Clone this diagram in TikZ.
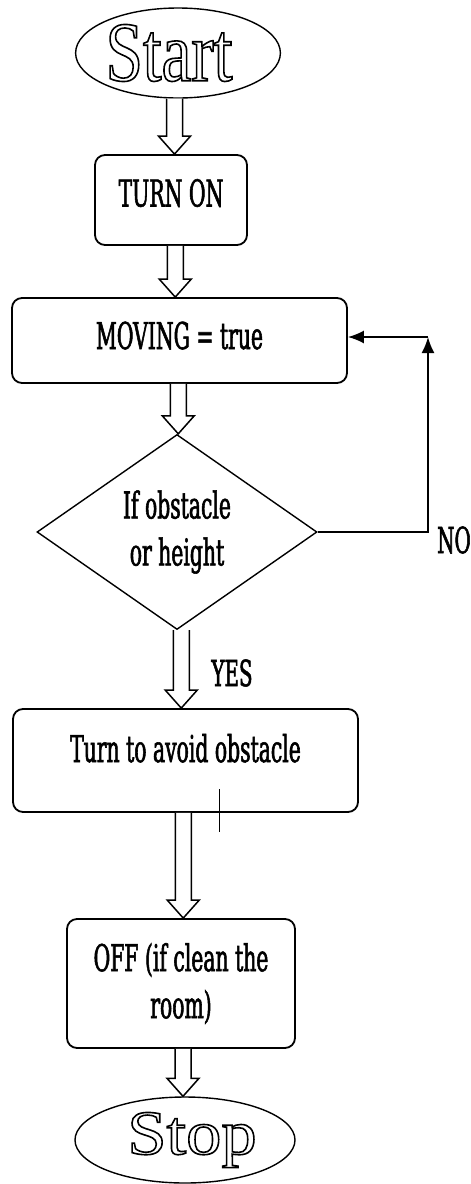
\documentclass[tikz,border=0pt]{standalone}
\usepackage{fontspec}
\setmainfont{DejaVu Serif}[FakeStretch=0.55,FakeBold=1.5]
\newfontfamily\startfont{Liberation Serif}[FakeStretch=0.79]
\newfontfamily\stopfont{Liberation Serif}[FakeStretch=1.12]
\usetikzlibrary{shapes.geometric,arrows.meta,calc}
\newcommand{\outlined}[1]{\special{pdf:literal direct 1 Tr 1.6 w}#1\special{pdf:literal direct 0 Tr}}
\newcommand{\hollowarrow}[2]{%
  \draw[hollow] let \p1=(#1.south), \p2=(#2.north), \p3=($(#1.south)!0.5!(#2.north)$) in
    (\x3-8pt,\y1) -- (\x3-8pt,\y2+18pt) -- (\x3-16pt,\y2+18pt) -- (\x3,\y2)
    -- (\x3+16pt,\y2+18pt) -- (\x3+8pt,\y2+18pt) -- (\x3+8pt,\y1);}
\begin{document}
\begin{tikzpicture}[x=1pt,y=-1pt,
    terminal/.style={draw,ellipse,line width=1.4pt,inner sep=0pt},
    stepbox/.style={draw,rounded corners=10pt,line width=1.8pt,inner sep=0pt,
      font=\fontsize{37}{47}\selectfont,align=center},
    decision/.style={draw,diamond,line width=1.4pt,inner sep=0pt,aspect=1.44,
      minimum width=280pt,minimum height=195pt,font=\fontsize{37}{47}\selectfont,align=center},
    hollow/.style={line width=1.5pt,line join=miter,fill=white},
    feedback/.style={line width=1.8pt,-{Latex[length=16pt,width=13pt]}},
    tag/.style={font=\fontsize{36}{44}\selectfont,inner sep=0pt}]
  \useasboundingbox (0,0) rectangle (471,1184);
  \node[terminal,minimum width=194pt,minimum height=90pt,font=\startfont\fontsize{85}{90}\selectfont] (start) at (178,53) {\outlined{Start}\kern18pt};
  \node[stepbox,minimum width=152pt,minimum height=90pt,text height=27pt,text depth=14pt] (on) at (171,200) {TURN ON};
  \node[stepbox,minimum width=335pt,minimum height=85pt,text height=27pt,text depth=10pt] (moving) at (179.5,340.5) {MOVING = true};
  \node[decision] (check) at (177,532) {If obstacle\\or height};
  \node[stepbox,minimum width=345pt,minimum height=103pt,text height=27pt,text depth=24pt] (turn) at (185.5,760.5) {Turn to avoid obstacle};
  \node[stepbox,minimum width=228pt,minimum height=129pt] (off) at (181,983.5) {OFF (if clean the\\room)};
  \node[terminal,minimum width=220pt,minimum height=86pt,font=\stopfont\fontsize{63}{70}\selectfont] (stop) at (185,1140) {\kern14pt\outlined{Stop}};
  \node[tag] (no) at (454,540) {NO};
  \node[tag] (yes) at (232,673) {YES};
  \hollowarrow{start}{on}
  \hollowarrow{on}{moving}
  \hollowarrow{moving}{check}
  \hollowarrow{check}{turn}
  \hollowarrow{turn}{off}
  \hollowarrow{off}{stop}
  \coordinate (corner) at (428,337);
  \draw[feedback] (check.east) -| (corner);
  \draw[feedback] (corner) -- (moving.east |- corner);
  \draw[line width=0.8pt] (219,789) -- (219,832);
\end{tikzpicture}
\end{document}
